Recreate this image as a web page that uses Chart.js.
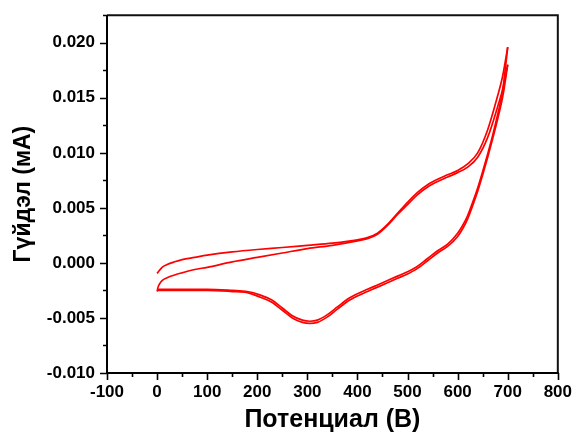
<!DOCTYPE html>
<html>
<head>
<meta charset="utf-8">
<script src="https://cdn.jsdelivr.net/npm/chart.js@4/dist/chart.umd.min.js"></script>
<style>
html,body{margin:0;padding:0;background:#fff;}
#wrap{width:574px;height:434px;position:relative;}
</style>
</head>
<body>
<div id="wrap"><canvas id="c" width="574" height="434"></canvas></div>
<script>
// ---- data ----
const xTitle = "Потенциал (В)";
const yTitle = "Гүйдэл (мА)";
const xTicks = [-100, 0, 100, 200, 300, 400, 500, 600, 700, 800];
const yTicks = [-0.010, -0.005, 0.000, 0.005, 0.010, 0.015, 0.020];

// cycle 1, anodic (forward) sweep
const c1AnodicX = [0, 10, 20, 35, 50, 75, 100, 150, 200, 250, 300, 350, 400, 420, 440, 460, 480, 500, 520, 540, 560, 580, 600, 620, 640, 660, 680, 690, 700];
const c1AnodicY = [-0.00095, -0.0004, -0.00015, 0.0001, 0.0003, 0.0005, 0.0007, 0.0010, 0.00122, 0.0014, 0.0016, 0.0018, 0.0021, 0.0023, 0.0027, 0.0035, 0.0045, 0.0055, 0.0064, 0.0071, 0.0076, 0.0080, 0.0084, 0.0090, 0.0100, 0.0121, 0.0152, 0.0170, 0.0196];
// cycle 1, cathodic (reverse) sweep
const c1CathodicX = [700, 690, 680, 670, 660, 650, 640, 630, 620, 610, 600, 580, 560, 540, 520, 500, 480, 460, 440, 420, 400, 380, 360, 340, 320, 305, 290, 270, 250, 230, 205, 180, 150, 100, 50, 0];
const c1CathodicY = [0.0196, 0.0157, 0.0135, 0.0116, 0.0099, 0.0083, 0.0068, 0.0055, 0.0043, 0.0034, 0.0027, 0.0017, 0.0011, 0.0004, -0.0003, -0.0008, -0.0012, -0.0016, -0.0020, -0.0024, -0.0028, -0.0033, -0.0040, -0.0047, -0.0052, -0.0053, -0.0052, -0.0048, -0.0041, -0.0034, -0.0029, -0.0026, -0.0025, -0.0024, -0.0024, -0.0024];
// cycle 2, anodic sweep
const c2AnodicX = [0, 2, 5, 10, 20, 35, 50, 75, 100, 150, 200, 250, 300, 350, 400, 420, 440, 460, 480, 500, 520, 540, 560, 580, 600, 620, 640, 660, 680, 690, 700];
const c2AnodicY = [-0.0026, -0.0022, -0.0019, -0.0016, -0.00135, -0.0011, -0.0009, -0.0006, -0.0004, 0.0001, 0.0005, 0.0009, 0.0013, 0.0016, 0.0020, 0.0022, 0.0026, 0.0034, 0.0044, 0.0053, 0.0062, 0.0069, 0.0074, 0.0078, 0.0082, 0.0087, 0.0096, 0.0114, 0.0142, 0.0158, 0.0180];
// cycle 2, cathodic sweep
const c2CathodicX = [700, 690, 680, 670, 660, 650, 640, 630, 620, 610, 600, 580, 560, 540, 520, 500, 480, 460, 440, 420, 400, 380, 360, 340, 320, 305, 290, 270, 250, 230, 205, 180, 150, 100, 50, 0];
const c2CathodicY = [0.0180, 0.0151, 0.0131, 0.0113, 0.0096, 0.0080, 0.0065, 0.0052, 0.0040, 0.0031, 0.0024, 0.0015, 0.0009, 0.0002, -0.0005, -0.0010, -0.0014, -0.0018, -0.0022, -0.0026, -0.0030, -0.0035, -0.0042, -0.0049, -0.0054, -0.0055, -0.0054, -0.0050, -0.0043, -0.0036, -0.0031, -0.0027, -0.0026, -0.0025, -0.0025, -0.0025];

function pts(xs, ys) { return xs.map((x, i) => ({x: x, y: ys[i]})); }

const FONT = "'Liberation Sans', Arial, sans-serif";
const RED = '#ff0000';

function ds(label, xs, ys) {
  return {
    label: label,
    data: pts(xs, ys),
    showLine: true,
    borderColor: RED,
    backgroundColor: RED,
    borderWidth: 1.7,
    pointRadius: 0,
    cubicInterpolationMode: 'monotone',
    fill: false
  };
}

// frame + major/minor ticks drawn through the chart's own scales
const framePlugin = {
  id: 'frame',
  afterDraw(chart) {
    const ctx = chart.ctx;
    const a = chart.chartArea;
    const xs = chart.scales.x, ys = chart.scales.y;
    ctx.save();
    ctx.strokeStyle = '#111';
    ctx.lineWidth = 2;
    ctx.beginPath();
    ctx.moveTo(a.left, a.top); ctx.lineTo(a.right, a.top); ctx.lineTo(a.right, a.bottom);
    ctx.stroke();
    ctx.strokeStyle = '#000';
    ctx.beginPath();
    ctx.moveTo(a.left, a.top); ctx.lineTo(a.left, a.bottom); ctx.lineTo(a.right + 1, a.bottom);
    ctx.stroke();
    ctx.lineWidth = 1.6;
    ctx.beginPath();
    for (let v = xs.min; v <= xs.max + 1e-9; v += 50) {
      const px = Math.round(xs.getPixelForValue(v)) + 0.5;
      const major = Math.abs(v % 100) < 1e-9;
      ctx.moveTo(px, a.bottom);
      ctx.lineTo(px, a.bottom + (major ? 7 : 4));
    }
    for (let k = 0; k <= 13; k++) {
      const v = -0.01 + k * 0.0025;
      if (v > ys.max + 1e-12) break;
      const py = Math.round(ys.getPixelForValue(v)) + 0.5;
      const major = k % 2 === 0;
      ctx.moveTo(a.left, py);
      ctx.lineTo(a.left - (major ? 7 : 4), py);
    }
    ctx.stroke();
    ctx.restore();
  }
};

new Chart(document.getElementById('c'), {
  type: 'scatter',
  data: {
    datasets: [
      ds('Цикл 1 (анод)', c1AnodicX, c1AnodicY),
      ds('Цикл 1 (катод)', c1CathodicX, c1CathodicY),
      ds('Цикл 2 (анод)', c2AnodicX, c2AnodicY),
      ds('Цикл 2 (катод)', c2CathodicX, c2CathodicY)
    ]
  },
  options: {
    responsive: false,
    animation: false,
    devicePixelRatio: 1,
    layout: { padding: { left: 0, top: 10, right: 16, bottom: 0 } },
    plugins: { legend: { display: false }, tooltip: { enabled: false } },
    scales: {
      x: {
        type: 'linear',
        min: -100, max: 800,
        afterFit(s) { s.height = 61; },
        afterBuildTicks(s) { s.ticks = xTicks.map(v => ({value: v})); },
        grid: { display: true, drawOnChartArea: false, drawTicks: true, tickLength: 7, tickColor: 'rgba(0,0,0,0)' },
        border: { display: false },
        ticks: {
          color: '#000', padding: 2, maxRotation: 0, autoSkip: false,
          font: { family: FONT, size: 17, weight: 'bold' },
          callback: v => String(v)
        },
        title: {
          display: true, text: xTitle, color: '#000',
          font: { family: FONT, size: 25, weight: 'bold' },
          padding: { top: 0, bottom: -1 }
        }
      },
      y: {
        type: 'linear',
        min: -0.01, max: 0.0225,
        afterFit(s) { s.width = 107; },
        afterBuildTicks(s) { s.ticks = yTicks.map(v => ({value: v})); },
        grid: { display: true, drawOnChartArea: false, drawTicks: true, tickLength: 7, tickColor: 'rgba(0,0,0,0)' },
        border: { display: false },
        ticks: {
          color: '#000', padding: 5, autoSkip: false,
          font: { family: FONT, size: 17, weight: 'bold' },
          callback: v => v.toFixed(3)
        },
        title: {
          display: true, text: yTitle, color: '#000',
          font: { family: FONT, size: 23, weight: 'bold' },
          padding: { top: 10, bottom: 0 }
        }
      }
    }
  },
  plugins: [framePlugin]
});
</script>
</body>
</html>
